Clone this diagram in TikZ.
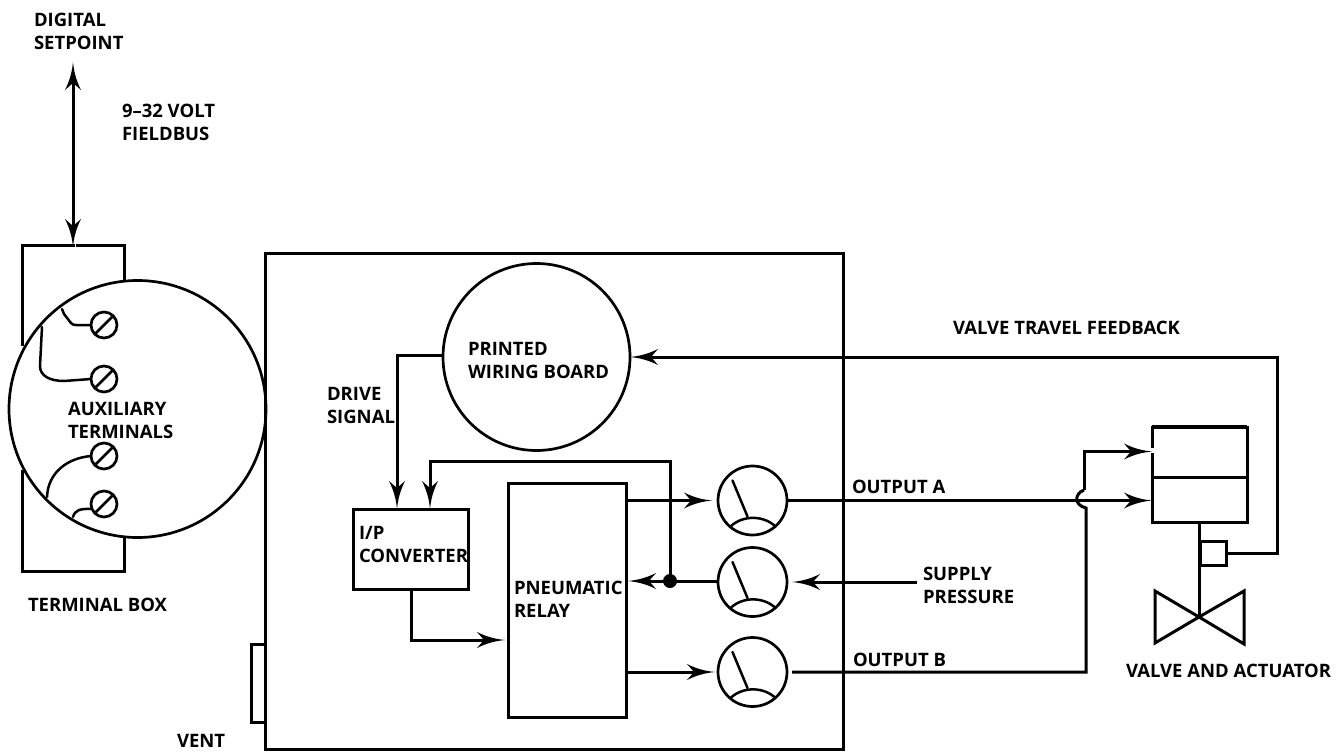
\documentclass[tikz,border=0pt]{standalone}
\usepackage{fontspec}
\setmainfont{Open Sans}
\usetikzlibrary{arrows.meta}
\pgfdeclarearrow{
  name=Spike,
  setup code={
    \pgfarrowssettipend{0pt}
    \pgfarrowssetbackend{-28pt}
    \pgfarrowssetlineend{-17pt}
    \pgfarrowshullpoint{0pt}{0pt}
    \pgfarrowshullpoint{-28pt}{8pt}
    \pgfarrowshullpoint{-28pt}{-8pt}
  },
  drawing code={
    \pgfpathmoveto{\pgfqpoint{0pt}{0pt}}
    \pgfpathcurveto{\pgfqpoint{-8pt}{0.8pt}}{\pgfqpoint{-17pt}{2.5pt}}{\pgfqpoint{-28pt}{8pt}}
    \pgfpathlineto{\pgfqpoint{-21pt}{0pt}}
    \pgfpathlineto{\pgfqpoint{-28pt}{-8pt}}
    \pgfpathcurveto{\pgfqpoint{-17pt}{-2.5pt}}{\pgfqpoint{-8pt}{-0.8pt}}{\pgfqpoint{0pt}{0pt}}
    \pgfpathclose
    \pgfusepathqfill
  },
  defaults={}
}
\tikzset{
  ln/.style={draw=black,line width=3pt,line cap=butt,line join=miter},
  thin ln/.style={draw=black,line width=2.5pt,line cap=round},
  flow/.style={ln,-{Spike}},
  boxn/.style={ln,rectangle,inner sep=0pt,outer sep=0pt},
  circ/.style={draw=black,line width=2.7pt,circle,inner sep=0pt,outer sep=0pt},
  screw/.style={circ,minimum size=26pt},
  gauge/.style={circ,minimum size=69pt},
  lbl/.style={inner sep=0pt,outer sep=0pt,anchor=base west,align=left,
    font=\bfseries\fontsize{18.5}{22.5}\selectfont},
  gaugemarks/.pic={
    \draw[thin ln] (-20,-20) -- (-5,16);
    \draw[thin ln] (-22,26) .. controls (-10,14.5) and (11,14.5) .. (23,26);
  },
  slot/.pic={\draw[thin ln] (-9,9) -- (9,-9);}
}
\begin{document}
\begin{tikzpicture}[x=1pt,y=-1pt]
\useasboundingbox (0,0) rectangle (1341,752);
% terminal box
\coordinate (tbTopA) at (73,247);
\coordinate (tbTip) at (73,62);
\draw[ln] (22,346) -- (22,245) -- (124,245) -- (124,280);
\draw[ln] (22,470) -- (22,571) -- (124,571) -- (124,537);
\node[circ,minimum size=257pt] (term) at (137.5,409) {};
\draw[white,line width=3.6pt] (75,245) -- (75.5,245);
\draw[ln,{Spike}-{Spike}] (tbTip) -- (tbTopA);
% screws
\node[screw] (s1) at (104,325) {};
\node[screw] (s2) at (104,379) {};
\node[screw] (s3) at (104,456) {};
\node[screw] (s4) at (104,504) {};
\foreach \s in {s1,s2,s3,s4}{\pic at (\s) {slot};}
\draw[thin ln] (62,309) -- (64,314) -- (71,323) .. controls (72,324.5) and (74,325) .. (76,325) -- (s1.west);
\draw[thin ln] (42,327) -- (40,366) .. controls (40,376) and (50,381) .. (64,381) -- (s2.west);
\draw[thin ln] (47,497) .. controls (48,472) and (68,458) .. (s3.west);
\draw[thin ln] (73,517) .. controls (75,510) and (80,508.5) .. (92,509);
% main enclosure
\node[boxn,minimum width=578pt,minimum height=496pt] (main) at (554,501) {};
\node[boxn,minimum width=14pt,minimum height=78pt] (vent) at (258,683) {};
% PWB
\node[circ,minimum size=187pt] (pwb) at (536.5,357) {};
% I/P and relay
\node[boxn,minimum width=115pt,minimum height=80pt] (ip) at (411,549) {};
\node[boxn,minimum width=118pt,minimum height=234pt] (relay) at (567,600) {};
% gauges
\node[gauge] (g1) at (752.5,500.5) {};
\node[gauge] (g2) at (752.5,582) {};
\node[gauge] (g3) at (752.5,672) {};
\foreach \g in {g1,g2,g3}{\pic at (\g) {gaugemarks};}
% actuator
\node[boxn,minimum width=95pt,minimum height=95pt] (act) at (1199.5,474.5) {};
\draw[ln] (act.west |- 0,477) -- (act.east |- 0,477);
\draw[ln,line width=3.4pt] (act.north west) -- (act.north east);
\draw[white,line width=3.6pt] (act.west |- 0,447.5) -- (act.west |- 0,453);
\coordinate (vc) at (1199,617);
\node[boxn,minimum width=26pt,minimum height=24pt] (sensor) at (1213,553) {};
\draw[ln] (act.south -| vc) -- (vc);
\draw[ln] (vc) -- (1155,591) -- (1155,643) -- cycle;
\draw[ln] (vc) -- (1244,591) -- (1244,644) -- cycle;
% connectors
\coordinate (dot) at (670,581);
\coordinate (supply) at (917,582);
\coordinate (hopb) at (1086,508);
\coordinate (hopt) at (1084,490);
\draw[flow] (pwb.west |- 0,355) -- (397,355) -- (397,509);
\draw[flow] (dot) -- (670,461) -- (430,461) -- (430,509);
\draw[flow] (relay.east |- g1) -- (712,500.5);
\draw[flow] (g2.west |- dot) -- (628,581);
\node[circle,fill=black,inner sep=0pt,minimum size=14pt] (dotn) at (dot) {};
\draw[flow] (supply) -- (792,582);
\draw[flow] (411,589) -- (411,640) -- (505,640);
\draw[flow] (628,672) -- (715,672);
\draw[flow] (g1.east) -- (act.west |- g1);
\draw[ln] (792,672) -- (1086,672) -- (hopb) .. controls (1074,505) and (1074,494) .. (hopt);
\draw[flow] (hopt) -- (1084,451.5) -- (act.west |- 0,451.5);
\draw[flow] (sensor.east) -- (1277,553) -- (1277,357) -- (pwb.east |- 0,357);
% labels (anchored on the baseline of the last line)
\node[lbl] (l1) at (34,49) {DIGITAL\\SETPOINT};
\node[lbl] (l2) at (122,140) {9–32 VOLT\\FIELDBUS};
\node[lbl] (l3) at (68,438) {AUXILIARY\\TERMINALS};
\node[lbl] (l4) at (28,611) {TERMINAL BOX};
\node[lbl] (l5) at (177,747) {VENT};
\node[lbl] (l6) at (468,378) {PRINTED\\WIRING BOARD};
\node[lbl] (l7) at (327,423) {DRIVE\\SIGNAL};
\node[lbl] (l8) at (359,562) {I/P\\CONVERTER};
\node[lbl] (l9) at (514,617) {PNEUMATIC\\RELAY};
\node[lbl] (l10) at (852,493) {OUTPUT A};
\node[lbl] (l11) at (853,666) {OUTPUT B};
\node[lbl] (l12) at (923,603) {SUPPLY\\PRESSURE};
\node[lbl] (l13) at (953,334) {VALVE TRAVEL FEEDBACK};
\node[lbl] (l14) at (1126,677) {VALVE AND ACTUATOR};
\end{tikzpicture}
\end{document}
